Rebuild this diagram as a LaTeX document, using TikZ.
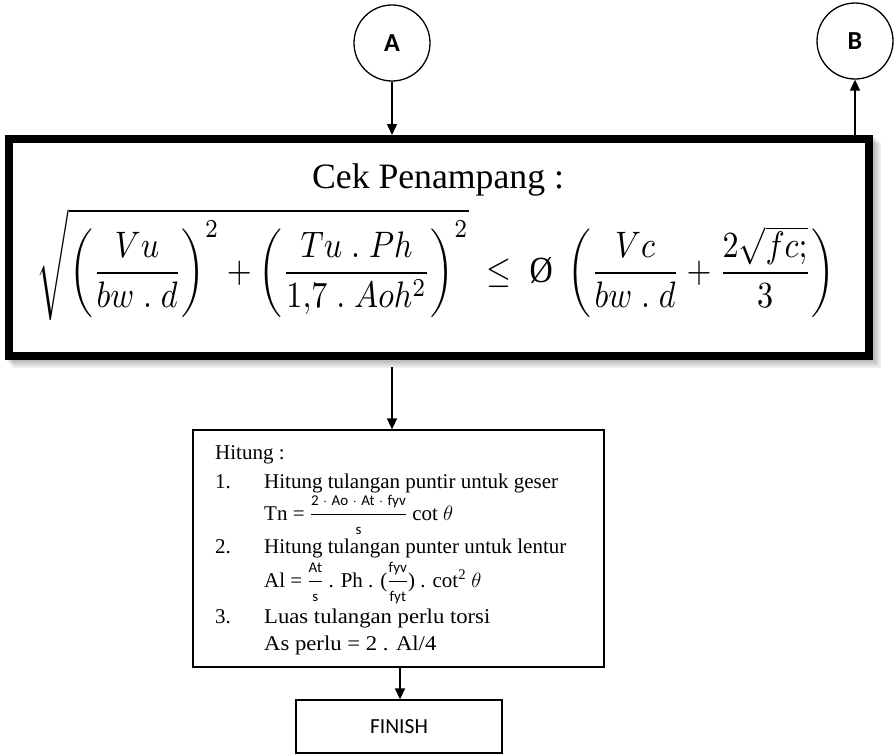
\documentclass[tikz,border=0pt]{standalone}
\usepackage{fontspec}
\usepackage{amsmath}
\setmainfont{Liberation Serif}
\newfontfamily\calib{Carlito}
\usetikzlibrary{arrows.meta}

\newcommand{\smallsans}{\calib\fontsize{15}{16}\selectfont}
\newcommand{\sep}{\hspace{0.3em}$\cdot$\hspace{0.3em}}

\begin{document}
\begin{tikzpicture}[x=1pt,y=-1pt,
  conn/.style={line width=1.3pt,-{Triangle[width=10pt,length=11pt]}},
  ref/.style={draw,circle,line width=1.3pt,minimum size=76pt,inner sep=0pt,
              font=\calib\bfseries\fontsize{26}{28}\selectfont},
  frame/.style={draw,line width=1.3pt,fill=white,inner sep=0pt},
  body/.style={anchor=base west,inner sep=0pt,font=\fontsize{21}{24}\selectfont},
  num/.style={anchor=base west,inner sep=0pt,font=\fontsize{21}{24}\selectfont}]
\useasboundingbox (0,0) rectangle (896,755);
\fill[white] (0,0) rectangle (896,755);

% connector circles
\node[ref] (A) at (392,43) {A};
\node[ref] (B) at (855,41) {B};

% soft shadow of the check box
\foreach \d in {2,4,6,8}
  \fill[black,opacity=0.07] (5+\d,135+\d) rectangle (873+\d,360+\d);

% section check box
\node[draw,line width=8pt,fill=white,minimum width=860pt,minimum height=217pt,
      inner sep=0pt] (chk) at (439,247.5) {};
\node[anchor=base,inner sep=0pt,font=\fontsize{35.7}{40}\selectfont] (cek) at (438,188)
  {Cek Penampang :};
\node[inner sep=0pt] (eq) at (436,265) {\resizebox*{798pt}{112pt}{$\displaystyle
  \sqrt{\left(\frac{Vu}{bw\;.\;d}\right)^{2}+\left(\frac{Tu\;.\;Ph}{1{,}7\;.\;Aoh^{2}}\right)^{2}}
  \;\le\;\mbox{Ø}\;\left(\frac{Vc}{bw\;.\;d}+\frac{2\sqrt{fc;}}{3}\right)$}};

% calculation box
\node[frame,minimum width=411pt,minimum height=237pt] (hit) at (398.5,548.5) {};
\node[body] (h0) at (215,459) {Hitung :};
\node[num] (n1) at (215,488) {1.};
\node[body] (h1) at (264,488) {Hitung tulangan puntir untuk geser};
\node[body] (h2) at (264,520) {Tn = $\dfrac{\mbox{\smallsans 2\sep Ao\sep At\sep fyv}}{\mbox{\smallsans s}}$ cot $\theta$};
\node[num] (n2) at (215,553) {2.};
\node[body] (h3) at (264,553) {Hitung tulangan punter untuk lentur};
\node[body] (h4) at (264,587) {Al = $\dfrac{\mbox{\smallsans At}}{\mbox{\smallsans s}}$ . Ph . ($\dfrac{\mbox{\smallsans fyv}}{\mbox{\smallsans fyt}}$) . cot\textsuperscript{2} $\theta$};
\node[num] (n3) at (215,623) {3.};
\node[body] (h5) at (264,623) {\scalebox{1.08}[1]{Luas tulangan perlu torsi}};
\node[body] (h6) at (264,650) {\scalebox{1.08}[1]{As perlu = 2 . Al/4}};

% end box
\node[frame,minimum width=206pt,minimum height=53pt,
      font=\calib\fontsize{21.5}{24}\selectfont] (fin) at (399,726.5) {FINISH};

% connectors
\draw[conn] (A) -- (A |- chk.north);
\draw[conn] (chk.north -| B) -- (B);
\draw[conn,shorten <=7pt] (chk.south -| A) -- (hit.north -| A);
\draw[conn] (hit.south -| 400,0) -- (fin.north -| 400,0);
\end{tikzpicture}
\end{document}
